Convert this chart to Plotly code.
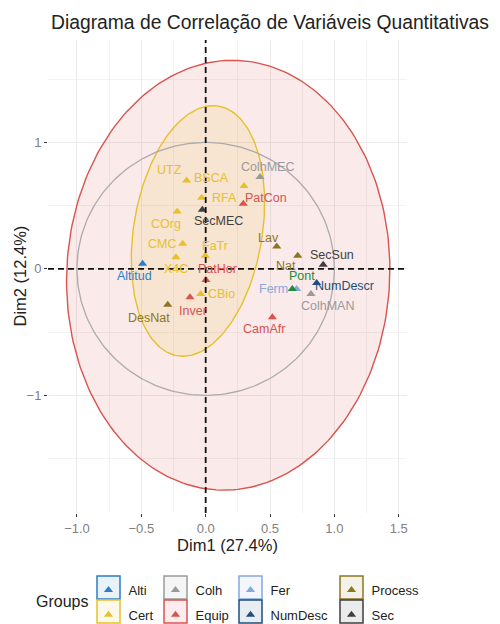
import numpy as np
import plotly.graph_objects as go

# ---------------- data ----------------
variables = ["Altitud", "UTZ", "BSCA", "RFA", "COrg", "CMC", "X4C", "FaTr", "CBio",
             "ColhMEC", "ColhMAN", "PatCon", "PatHor", "Inver", "CamAfr", "Ferm",
             "NumDescr", "Lav", "Nat", "DesNat", "SecMEC", "SecSun", "Pont"]
dim1 = [-0.490, -0.148, 0.298, -0.031, -0.221, -0.179, -0.231, -0.003, -0.039,
        0.422, 0.818, 0.292, 0.002, -0.122, 0.518, 0.707,
        0.862, 0.552, 0.715, -0.295, -0.026, 0.913, 0.673]
dim2 = [0.040, 0.699, 0.655, 0.562, 0.454, 0.198, 0.093, 0.105, -0.198,
        0.726, -0.198, 0.515, -0.087, -0.224, -0.383, -0.158,
        -0.111, 0.177, 0.105, -0.283, 0.467, 0.032, -0.158]
group = ["Alti", "Cert", "Cert", "Cert", "Cert", "Cert", "Cert", "Cert", "Cert",
         "Colh", "Colh", "Equip", "Equip", "Equip", "Equip", "Fer",
         "NumDesc", "Process", "Process", "Process", "Sec", "Sec", "Pont"]

group_names = ["Alti", "Cert", "Colh", "Equip", "Fer", "NumDesc", "Process", "Sec"]

x_ticks = [-1.0, -0.5, 0.0, 0.5, 1.0, 1.5]
y_ticks = [-1, 0, 1]

# concentration ellipses
ellipse_groups = ["Equip", "Cert"]
ellipse_cx = [0.175, -0.06]
ellipse_cy = [-0.05, 0.30]
ellipse_semi_v = [1.70, 1.00]
ellipse_semi_h = [1.255, 0.50]
ellipse_tilt_deg = [2.5, 9.0]

# ---------------- styles ----------------
colors = {
    "Alti": "#2F7EC4", "Cert": "#E6C12E", "Colh": "#9A9A9A", "Equip": "#D9534F",
    "Fer": "#86A8DC", "NumDesc": "#1F4E79", "Process": "#8C7622", "Sec": "#3F3F3F",
    "Pont": "#1E8C3A",
}
rgb = {
    "Alti": (47, 126, 196), "Cert": (230, 193, 46), "Colh": (154, 154, 154),
    "Equip": (217, 83, 79), "Fer": (134, 168, 220), "NumDesc": (31, 78, 121),
    "Process": (140, 118, 34), "Sec": (63, 63, 63),
}
fill_colors = {"Equip": "rgba(217,83,79,0.12)", "Cert": "rgba(230,193,46,0.13)"}

# label offsets (pixels) mimicking the repelled label placement
label_shift = {
    "Altitud": (-8, -12), "UTZ": (-17, 11), "BSCA": (-33, 8), "RFA": (23, 0),
    "COrg": (-11, -13), "CMC": (-21, 0), "X4C": (0, -12), "FaTr": (10, 10),
    "CBio": (21, 0), "ColhMEC": (8, 10), "ColhMAN": (17, -12), "PatCon": (23, 6),
    "PatHor": (12, 11), "Inver": (3, -14), "CamAfr": (-8, -12), "Ferm": (-23, 0),
    "NumDescr": (28, -3), "Lav": (-8, 9), "Nat": (-12, -10), "DesNat": (-19, -13),
    "SecMEC": (16, -11), "SecSun": (9, 10), "Pont": (10, 13),
}

# legend columns (column-major like the reference)
legend_cols = [["Alti", "Cert"], ["Colh", "Equip"], ["Fer", "NumDesc"], ["Process", "Sec"]]
legend_ids = ["legend", "legend2", "legend3", "legend4"]

# page layout: the browser body adds an 8px margin, so the figure is drawn
# 8px smaller and all pixel targets are expressed in figure coordinates.
OFF = 8
W, H = 500 - OFF, 624 - OFF
PANEL_L, PANEL_R, PANEL_T, PANEL_B = 48 - OFF, 407 - OFF, 40 - OFF, 513 - OFF
ML, MR, MT, MB = PANEL_L, W - PANEL_R, PANEL_T, H - PANEL_B
PW, PH = W - ML - MR, H - MT - MB

legend_key_px = [97 - OFF, 164 - OFF, 239 - OFF, 340 - OFF]   # key box left edges
legend_row_px = [576 - OFF, 600 - OFF]                        # key box top edges
KEY = 23

FONT = "Liberation Sans, Arial, Helvetica, sans-serif"


def px_to_paper_x(px):
    return (px - ML) / PW


def px_to_paper_y(py):
    return (H - MB - py) / PH


fig = go.Figure()

# ellipses
t = np.linspace(0, 2 * np.pi, 240)
for g, cx, cy, a, b, th in zip(ellipse_groups, ellipse_cx, ellipse_cy,
                               ellipse_semi_v, ellipse_semi_h, ellipse_tilt_deg):
    r = np.deg2rad(th)
    ex = cx + a * np.cos(t) * np.sin(r) + b * np.sin(t) * np.cos(r)
    ey = cy + a * np.cos(t) * np.cos(r) - b * np.sin(t) * np.sin(r)
    fig.add_trace(go.Scatter(x=ex, y=ey, mode="lines", fill="toself",
                             fillcolor=fill_colors[g],
                             line=dict(color=colors[g], width=1.4),
                             hoverinfo="skip", showlegend=False))

# correlation circle
fig.add_trace(go.Scatter(x=np.cos(t), y=np.sin(t), mode="lines",
                         line=dict(color="#ABABAB", width=1.3),
                         hoverinfo="skip", showlegend=False))

# points per group
legend_of = {g: legend_ids[c] for c, col in enumerate(legend_cols) for g in col}
for g in group_names + ["Pont"]:
    idx = [i for i, gg in enumerate(group) if gg == g]
    fig.add_trace(go.Scatter(
        x=[dim1[i] for i in idx], y=[dim2[i] for i in idx],
        mode="markers", name=g,
        marker=dict(symbol="triangle-up", size=8, color=colors[g]),
        text=[variables[i] for i in idx],
        showlegend=(g != "Pont"),
        legend=legend_of.get(g, "legend"),
        legendgroup=g,
    ))

# labels
for v, x, y, g in zip(variables, dim1, dim2, group):
    dx, dy = label_shift[v]
    fig.add_annotation(x=x, y=y, text=v, showarrow=False, xshift=dx, yshift=dy,
                       font=dict(family=FONT, size=12.5, color=colors[g]))

# zero reference lines
dash_style = dict(color="#111111", width=1.8, dash="6px,4px")
fig.add_shape(type="line", xref="x", yref="paper", x0=0, x1=0, y0=0, y1=1,
              line=dash_style, layer="above")
fig.add_shape(type="line", xref="paper", yref="y", x0=0, x1=1, y0=0, y1=0,
              line=dash_style, layer="above")

# legend key boxes
for c, col in enumerate(legend_cols):
    for r_, g in enumerate(col):
        x0 = legend_key_px[c]
        y0 = legend_row_px[r_]
        rr, gg, bb = rgb[g]
        fig.add_shape(type="rect", xref="paper", yref="paper",
                      x0=px_to_paper_x(x0), x1=px_to_paper_x(x0 + KEY),
                      y0=px_to_paper_y(y0), y1=px_to_paper_y(y0 + KEY),
                      line=dict(color=colors[g], width=1.5),
                      fillcolor=f"rgba({rr},{gg},{bb},0.1)", layer="below")

fig.add_annotation(xref="paper", yref="paper", x=px_to_paper_x(62 - OFF),
                   y=px_to_paper_y(601 - OFF),
                   text="Groups", showarrow=False, xanchor="center", yanchor="middle",
                   font=dict(family=FONT, size=16, color="#222222"))

# y axis title (as rotated text left of the tick labels)
fig.add_annotation(xref="paper", yref="paper", x=px_to_paper_x(19 - OFF), y=0.5,
                   text="Dim2 (12.4%)", textangle=-90, showarrow=False,
                   xanchor="center", yanchor="middle",
                   font=dict(family=FONT, size=16.5, color="#222222"))

leg_common = dict(orientation="v", xanchor="left", yanchor="top",
                  y=px_to_paper_y(575 - OFF),
                  font=dict(family=FONT, size=13, color="#222222"),
                  traceorder="grouped", tracegroupgap=5, bgcolor="rgba(0,0,0,0)")

legend_layout = {}
for c, lid in enumerate(legend_ids):
    legend_layout[lid] = dict(x=px_to_paper_x(legend_key_px[c] + KEY / 2 - 20), **leg_common)

fig.update_layout(
    width=W, height=H,
    margin=dict(l=ML, r=MR, t=MT, b=MB, autoexpand=False),
    paper_bgcolor="white", plot_bgcolor="white",
    font=dict(family=FONT, color="#222222"),
    title=dict(text="Diagrama de Correlação de Variáveis Quantitativas",
               x=(51 - OFF) / W, xanchor="left", y=1 - (22 - OFF) / H, yanchor="middle",
               font=dict(family=FONT, size=19.3, color="#222222")),
    xaxis=dict(range=[-1.225, 1.564], tickvals=x_ticks, tickformat=".1f",
               showgrid=True, gridcolor="#EBEBEB", gridwidth=1,
               minor=dict(dtick=0.25, tick0=0, showgrid=True, gridcolor="#F2F2F2", gridwidth=1),
               zeroline=False, showline=False, ticks="outside", ticklen=3,
               tickcolor="#333333", tickfont=dict(family=FONT, size=13, color="#7F7F7F"),
               title=dict(text="Dim1 (27.4%)", standoff=3,
                          font=dict(family=FONT, size=16.5, color="#222222")),
               automargin=False),
    yaxis=dict(range=[-1.93, 1.81], tickvals=y_ticks,
               showgrid=True, gridcolor="#EBEBEB", gridwidth=1,
               minor=dict(dtick=0.5, tick0=0, showgrid=True, gridcolor="#F2F2F2", gridwidth=1),
               zeroline=False, showline=False, ticks="outside", ticklen=3,
               tickcolor="#333333", tickfont=dict(family=FONT, size=13, color="#7F7F7F"),
               automargin=False),
    **legend_layout,
)

fig.write_html("out.html")
